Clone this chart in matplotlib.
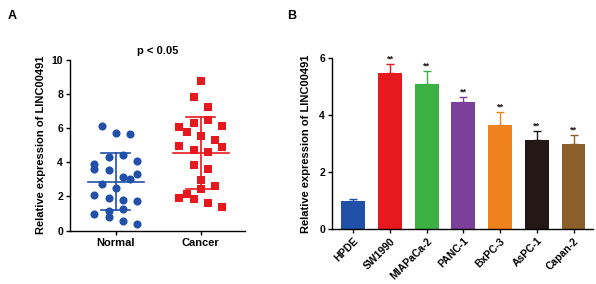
import matplotlib
matplotlib.use("Agg")
import matplotlib.pyplot as plt
import numpy as np

plt.rcParams['font.family'] = ['Liberation Sans', 'DejaVu Sans']
plt.rcParams['font.weight'] = 'bold'
plt.rcParams['axes.labelweight'] = 'bold'

# Panel A: scatter values (jitter column -3..3)
normal_vals = [6.13, 5.70, 5.64, 3.89, 3.61, 4.30, 4.43, 4.10, 3.55, 3.16, 3.03, 3.32,
               2.75, 2.52, 2.07, 1.89, 1.80, 1.72, 1.17, 1.25, 0.96, 0.80, 0.59, 0.39]
normal_cols = [-2, 0, 2, -3, -3, -1, 1, 3, -1, 1, 2, 3,
               -2, 0, -3, -1, 1, 3, -1, 1, -3, -1, 1, 3]
cancer_vals = [8.75, 7.81, 7.27, 6.33, 6.48, 6.05, 5.80, 6.13, 5.55, 5.31, 4.96, 4.73,
               4.63, 4.90, 3.87, 3.59, 2.97, 2.46, 2.62, 1.93, 2.15, 1.84, 1.64, 1.37]
cancer_cols = [0, -1, 1, -1, 1, -3, -2, 3, 0, 2, -3, -1,
               1, 3, -1, 1, 0, 0, 2, -3, -2, -1, 1, 3]
groups = ["Normal", "Cancer"]

# Panel B: bar values
cell_lines = ["HPDE", "SW1990", "MIAPaCa-2", "PANC-1", "BxPC-3", "AsPC-1", "Capan-2"]
bar_vals = [0.99, 5.48, 5.10, 4.45, 3.66, 3.13, 2.99]
bar_err = [0.07, 0.31, 0.45, 0.19, 0.45, 0.31, 0.31]
bar_colors = ["#2050a8", "#e8191e", "#3cb043", "#7d3f9c", "#f0821e", "#231815", "#8b5e2a"]

fig = plt.figure(figsize=(5.96, 2.84), dpi=100)

def style_axes(ax):
    for s in ['top', 'right']:
        ax.spines[s].set_visible(False)
    for s in ['left', 'bottom']:
        ax.spines[s].set_linewidth(1.0)
    ax.tick_params(axis='both', length=3, width=1.0, labelsize=7.5, pad=2)

# ---- Panel A ----
axA = fig.add_axes([0.1174, 0.188, 0.2936, 0.601])
step = 0.084
col_blue = "#2050a8"
col_red = "#e8191e"
for gi, (vals, cols, color, marker, size) in enumerate([
        (normal_vals, normal_cols, col_blue, 'o', 34),
        (cancer_vals, cancer_cols, col_red, 's', 32)]):
    x = gi + np.array(cols) * step
    axA.scatter(x, vals, s=size, marker=marker, color=color, linewidths=0, zorder=3)
    m = np.mean(vals)
    sd = np.std(vals, ddof=1)
    axA.plot([gi - 0.33, gi + 0.33], [m, m], color=color, lw=1.2, zorder=4)
    axA.plot([gi, gi], [m - sd, m + sd], color=color, lw=1.2, zorder=4)
    for yy in (m - sd, m + sd):
        axA.plot([gi - 0.17, gi + 0.17], [yy, yy], color=color, lw=1.2, zorder=4)

axA.set_xlim(-0.54, 1.52)
axA.set_ylim(0, 10)
axA.set_yticks([0, 2, 4, 6, 8, 10])
axA.set_xticks([0, 1])
axA.set_xticklabels(groups, fontsize=8)
axA.set_ylabel("Relative expression of LINC00491", fontsize=8, labelpad=4)
axA.set_title("p < 0.05", fontsize=8, fontweight='bold', pad=4)
style_axes(axA)
axA.tick_params(axis='x', labelsize=8)

# ---- Panel B ----
axB = fig.add_axes([0.557, 0.194, 0.438, 0.602])
xb = np.arange(len(cell_lines))
axB.bar(xb, bar_vals, width=0.65, color=bar_colors, zorder=2)
for i in range(len(cell_lines)):
    axB.errorbar(xb[i], bar_vals[i], yerr=[[0], [bar_err[i]]], fmt='none',
                 ecolor=bar_colors[i], elinewidth=1.0, capsize=3, capthick=1.0, zorder=1)
    if i > 0:
        axB.text(xb[i], bar_vals[i] + bar_err[i] + 0.02, "**", ha='center', va='bottom',
                 fontsize=6.5, fontweight='bold', color='#231815')
axB.set_xlim(-0.58, 6.53)
axB.set_ylim(0, 6)
axB.set_yticks([0, 2, 4, 6])
axB.set_xticks(xb)
axB.set_xticklabels(cell_lines, rotation=45, ha='right', rotation_mode='anchor', fontsize=7.5)
axB.set_ylabel("Relative expression of LINC00491", fontsize=8, labelpad=6)
style_axes(axB)

fig.text(0.013, 0.965, "A", fontsize=9, fontweight='bold', va='top')
fig.text(0.482, 0.965, "B", fontsize=9, fontweight='bold', va='top')

fig.savefig("out.png", dpi=100)
